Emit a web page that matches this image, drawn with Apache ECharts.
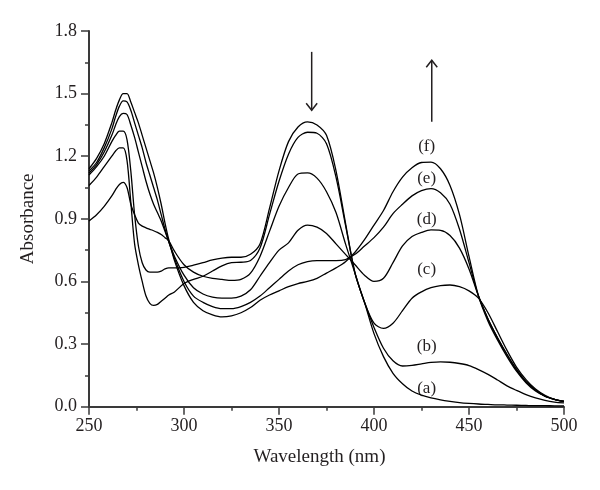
<!DOCTYPE html>
<html><head><meta charset="utf-8">
<script src="https://cdn.jsdelivr.net/npm/echarts@6/dist/echarts.min.js"></script>
<style>html,body{margin:0;padding:0;background:#fff}#chart{width:600px;height:490px}</style>
</head><body><div id="chart"></div>
<script>
// Wavelength grid (nm)
const wavelength = [250,254,258,262,264,266,268,270,272,274,276,278,280,282,284,286,288,290,292,
  295,300,305,310,315,320,325,330,335,340,345,350,355,360,365,370,375,380,385,390,395,400,
  405,410,415,420,425,430,435,440,445,450,455,460,465,470,475,480,485,490,495,500];

// Absorbance of each spectrum
const absA = [1.11,1.15,1.20,1.27,1.30,1.32,1.32,1.28,1.13,0.92,0.77,0.69,0.655,0.645,0.645,0.645,0.65,0.66,0.665,
  0.665,0.668,0.678,0.69,0.703,0.712,0.716,0.716,0.73,0.78,0.95,1.13,1.27,1.34,1.365,1.35,1.30,1.13,0.88,0.64,0.50,0.35,
  0.24,0.16,0.11,0.075,0.055,0.042,0.033,0.026,0.02,0.016,0.013,0.011,0.009,0.008,0.007,0.006,0.005,0.005,0.004,0.004];
const absB = [1.06,1.10,1.15,1.20,1.225,1.24,1.24,1.18,0.98,0.78,0.68,0.60,0.53,0.495,0.485,0.49,0.505,0.52,0.535,
  0.55,0.59,0.61,0.625,0.65,0.675,0.69,0.692,0.70,0.76,0.92,1.08,1.21,1.29,1.315,1.31,1.26,1.10,0.87,0.64,0.50,0.38,
  0.28,0.22,0.195,0.198,0.205,0.212,0.215,0.213,0.207,0.197,0.178,0.155,0.128,0.10,0.078,0.058,0.042,0.03,0.022,0.018];
const absC = [0.89,0.92,0.96,1.01,1.04,1.065,1.075,1.05,0.97,0.92,0.88,0.865,0.857,0.85,0.843,0.835,0.825,0.81,0.795,
  0.745,0.68,0.645,0.625,0.615,0.61,0.605,0.61,0.64,0.72,0.84,0.96,1.05,1.115,1.12,1.095,1.03,0.93,0.78,0.64,0.50,0.40,
  0.375,0.40,0.46,0.52,0.55,0.57,0.58,0.583,0.575,0.555,0.52,0.45,0.36,0.27,0.19,0.13,0.085,0.055,0.035,0.025];
const absD = [1.12,1.16,1.22,1.30,1.35,1.39,1.405,1.40,1.35,1.29,1.22,1.15,1.08,1.02,0.97,0.93,0.89,0.84,0.79,
  0.72,0.63,0.57,0.54,0.525,0.52,0.52,0.53,0.56,0.625,0.69,0.75,0.785,0.845,0.87,0.86,0.83,0.78,0.73,0.68,0.63,0.60,
  0.615,0.69,0.77,0.815,0.835,0.847,0.845,0.82,0.76,0.66,0.53,0.42,0.33,0.25,0.18,0.12,0.08,0.05,0.035,0.025];
const absE = [1.13,1.17,1.24,1.33,1.39,1.44,1.465,1.46,1.42,1.36,1.30,1.24,1.17,1.11,1.05,0.99,0.92,0.85,0.79,
  0.71,0.60,0.53,0.50,0.48,0.47,0.47,0.48,0.50,0.53,0.57,0.61,0.65,0.68,0.695,0.70,0.70,0.70,0.705,0.73,0.77,0.81,
  0.86,0.925,0.97,1.01,1.035,1.045,1.025,0.97,0.85,0.69,0.53,0.42,0.33,0.25,0.175,0.12,0.08,0.05,0.035,0.025];
const absF = [1.14,1.19,1.26,1.36,1.42,1.47,1.50,1.50,1.46,1.41,1.36,1.30,1.24,1.18,1.12,1.05,0.97,0.88,0.80,
  0.70,0.58,0.50,0.46,0.44,0.43,0.435,0.45,0.475,0.51,0.535,0.555,0.575,0.59,0.60,0.615,0.64,0.665,0.695,0.74,0.80,0.87,
  0.94,1.03,1.10,1.145,1.17,1.172,1.14,1.06,0.92,0.72,0.53,0.41,0.32,0.24,0.17,0.115,0.075,0.05,0.035,0.025];

const seriesNames = ['(a)','(b)','(c)','(d)','(e)','(f)'];
const seriesValues = [absA, absB, absC, absD, absE, absF];

// Tick settings
const xTicks = {min: 250, max: 500, step: 50};
const yTicks = {min: 0, max: 1.8, step: 0.3};

// Annotation anchors in data coordinates
const labelAnchors = [[427.7,0.088],[427.7,0.2875],[427.7,0.655],[427.7,0.895],[427.7,1.091],[427.7,1.246]];
const arrowAnchors = [{x: 367.2, from: 1.70, to: 1.42}, {x: 430.4, from: 1.365, to: 1.66}];

const FONT = '"Liberation Serif", "Times New Roman", serif';
const AXIS_COLOR = '#3a3a3a';

const chart = echarts.init(document.getElementById('chart'), null, {renderer: 'canvas'});

const series = seriesNames.map((name, k) => ({
  name: name,
  type: 'line',
  data: wavelength.map((w, i) => [w, seriesValues[k][i]]),
  showSymbol: false,
  smooth: 0.3,
  lineStyle: {color: '#000', width: 1.3},
  silent: true
}));

chart.setOption({
  animation: false,
  backgroundColor: '#fff',
  grid: {left: 89, right: 36, top: 31, bottom: 83.3, containLabel: false},
  xAxis: {
    type: 'value', min: xTicks.min, max: xTicks.max, interval: xTicks.step,
    name: 'Wavelength (nm)', nameLocation: 'middle', nameGap: 41,
    nameTextStyle: {fontFamily: FONT, fontSize: 19, color: '#231f20', padding: [0, 14, 0, 0]},
    axisLine: {show: true, onZero: false, lineStyle: {color: AXIS_COLOR, width: 2}},
    axisTick: {show: true, length: 8, lineStyle: {color: AXIS_COLOR, width: 1.5}},
    minorTick: {show: true, splitNumber: 2, length: 4, lineStyle: {color: AXIS_COLOR, width: 1.5}},
    axisLabel: {fontFamily: FONT, fontSize: 18, color: '#231f20', margin: 11},
    splitLine: {show: false}
  },
  yAxis: {
    type: 'value', min: yTicks.min, max: yTicks.max, interval: yTicks.step,
    name: 'Absorbance', nameLocation: 'middle', nameGap: 51,
    nameTextStyle: {fontFamily: FONT, fontSize: 19, color: '#231f20'},
    axisLine: {show: true, onZero: false, lineStyle: {color: AXIS_COLOR, width: 2}},
    axisTick: {show: true, length: 8, lineStyle: {color: AXIS_COLOR, width: 1.5}},
    minorTick: {show: true, splitNumber: 2, length: 4, lineStyle: {color: AXIS_COLOR, width: 1.5}},
    axisLabel: {fontFamily: FONT, fontSize: 18, color: '#231f20', margin: 12,
      formatter: v => v.toFixed(1)},
    splitLine: {show: false}
  },
  series: series
});

// Annotations (curve labels and arrows), placed through the axes
const toPx = p => chart.convertToPixel({xAxisIndex: 0, yAxisIndex: 0}, p);
const graphics = [];
labelAnchors.forEach((p, k) => {
  const q = toPx(p);
  graphics.push({
    type: 'text', silent: true,
    style: {text: seriesNames[k], x: q[0], y: q[1], font: '17px ' + FONT, fill: '#231f20',
      textAlign: 'center', textVerticalAlign: 'middle', align: 'center', verticalAlign: 'middle'}
  });
});
arrowAnchors.forEach(a => {
  const p1 = toPx([a.x, a.from]);
  const p2 = toPx([a.x, a.to]);
  const dir = p2[1] > p1[1] ? 1 : -1;
  graphics.push({type: 'polyline', silent: true, shape: {points: [p1, p2]},
    style: {stroke: '#231f20', lineWidth: 1.5, fill: null}});
  graphics.push({type: 'polyline', silent: true,
    shape: {points: [[p2[0] - 5.5, p2[1] - dir * 7], p2, [p2[0] + 5.5, p2[1] - dir * 7]]},
    style: {stroke: '#231f20', lineWidth: 1.5, fill: null}});
});
chart.setOption({graphic: graphics});
</script>
</body></html>
